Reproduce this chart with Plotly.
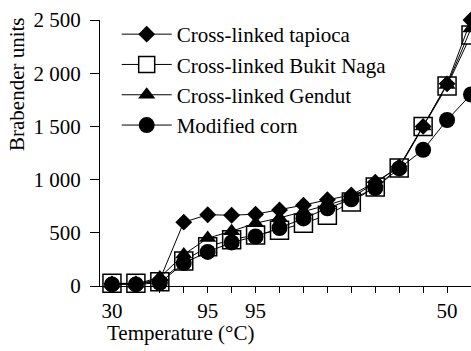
import plotly.graph_objects as go

x_idx = list(range(16))
tick_text = ["30", "", "", "", "95", "", "95", "", "", "", "", "", "", "", "50", ""]

tapioca = [20, 20, 60, 600, 670, 665, 675, 715, 760, 810, 855, 975, 1120, 1500, 1900, 2500]
bukit_naga = [25, 25, 40, 235, 370, 435, 480, 525, 590, 665, 790, 930, 1110, 1500, 1880, 2360]
gendut = [20, 20, 80, 295, 450, 515, 590, 640, 700, 760, 830, 970, 1120, 1500, 1890, 2420]
corn = [15, 15, 30, 215, 320, 410, 465, 545, 635, 730, 815, 920, 1105, 1280, 1560, 1800]

FONT = "Liberation Serif"
FS = 21

fig = go.Figure()
fig.add_trace(go.Scatter(x=x_idx, y=bukit_naga, mode="lines+markers", name="Cross-linked Bukit Naga",
                         line=dict(color="black", width=1), legendrank=2, cliponaxis=False,
                         marker=dict(symbol="square", size=18, color="white", line=dict(color="black", width=1.5))))
fig.add_trace(go.Scatter(x=x_idx, y=tapioca, mode="lines+markers", name="Cross-linked tapioca",
                         line=dict(color="black", width=1), legendrank=1, cliponaxis=False,
                         marker=dict(symbol="diamond", size=13, color="black")))
fig.add_trace(go.Scatter(x=x_idx, y=gendut, mode="lines+markers", name="Cross-linked Gendut",
                         line=dict(color="black", width=1), legendrank=3, cliponaxis=False,
                         marker=dict(symbol="triangle-up", size=15, color="black")))
fig.add_trace(go.Scatter(x=x_idx, y=corn, mode="lines+markers", name="Modified corn",
                         line=dict(color="black", width=1), legendrank=4, cliponaxis=False,
                         marker=dict(symbol="circle", size=16, color="black")))

pw, ph = 471 - 100, 351 - 20 - 65

fig.update_layout(
    width=471, height=351,
    margin=dict(l=100, r=0, t=20, b=65),
    paper_bgcolor="white", plot_bgcolor="white",
    font=dict(family=FONT, size=FS, color="black"),
    separators=". ",
    showlegend=True,
    legend=dict(x=0.045, y=1.0 + 6 / ph, xanchor="left", yanchor="top", bgcolor="rgba(0,0,0,0)",
                font=dict(family=FONT, size=FS), itemwidth=50, tracegroupgap=0),
    xaxis=dict(range=[-0.5, 15.0], tickmode="array", tickvals=x_idx, ticktext=tick_text,
               showline=True, linecolor="black", linewidth=1, ticks="outside", ticklen=6,
               tickcolor="black", showgrid=False, zeroline=False),
    yaxis=dict(range=[0, 2500], tickvals=[0, 500, 1000, 1500, 2000, 2500], tickformat=",d",
               showline=True, linecolor="black", linewidth=1, ticks="outside", ticklen=9,
               tickcolor="black", showgrid=False, zeroline=False, ticklabelstandoff=5),
    annotations=[
        dict(text="Temperature (°C)", x=(180 - 100) / pw, y=(286 - 333) / ph, xref="paper", yref="paper",
             xanchor="center", yanchor="middle", showarrow=False, font=dict(family=FONT, size=FS)),
        dict(text="Brabender units", textangle=-90, x=(17 - 100) / pw, y=(286 - 84) / ph,
             xref="paper", yref="paper", xanchor="center", yanchor="middle", showarrow=False,
             font=dict(family=FONT, size=FS)),
    ],
)

fig.write_html("out.html")
